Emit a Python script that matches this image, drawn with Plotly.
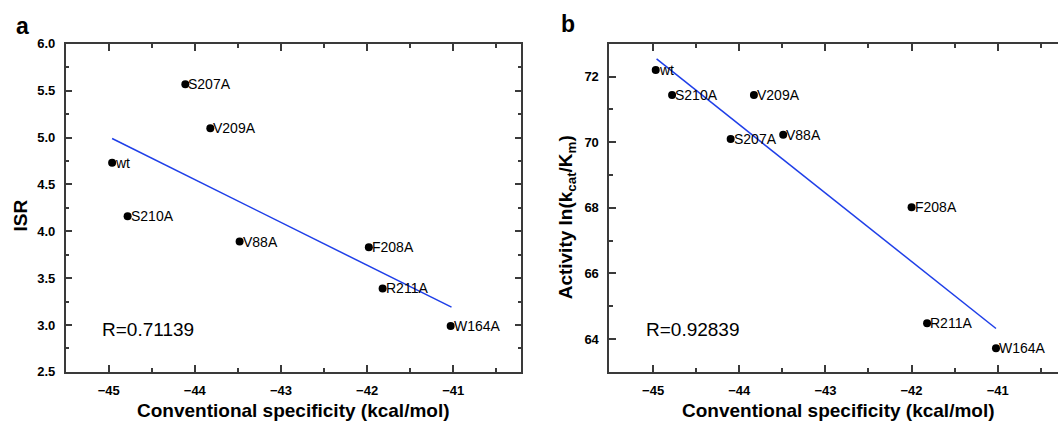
import plotly.graph_objects as go

# ---------------- data ----------------
mutants = ["wt", "S207A", "V209A", "S210A", "V88A", "F208A", "R211A", "W164A"]
spec_a = [-44.96, -44.11, -43.82, -44.78, -43.48, -41.98, -41.82, -41.03]
isr = [4.73, 5.57, 5.10, 4.16, 3.89, 3.83, 3.39, 2.99]
spec_b = [-44.97, -44.10, -43.83, -44.78, -43.49, -42.00, -41.82, -41.02]
activity = [72.20, 70.10, 71.44, 71.44, 70.23, 68.02, 64.48, 63.72]

fit_x_a = [-44.96, -41.02]
fit_y_a = [4.99, 3.19]
fit_x_b = [-44.96, -41.02]
fit_y_b = [72.54, 64.32]

r_a = "R=0.71139"
r_b = "R=0.92839"
x_title = "Conventional specificity (kcal/mol)"
y_title_a = "ISR"
y_title_b = "Activity ln(k<sub>cat</sub>/K<sub>m</sub>)"

W, H = 1058, 427
FONT = "Liberation Sans, Arial, sans-serif"
AX = "#3a3a3a"
BLUE = "#1f3fe8"


def px(x):
    return x / W


def py(y):
    return 1 - y / H


fig = go.Figure()

# panel a
fig.add_trace(go.Scatter(x=fit_x_a, y=fit_y_a, mode="lines",
                         line=dict(color=BLUE, width=1.5), xaxis="x", yaxis="y",
                         showlegend=False, hoverinfo="skip"))
fig.add_trace(go.Scatter(x=spec_a, y=isr, mode="markers",
                         marker=dict(color="black", size=8), xaxis="x", yaxis="y",
                         showlegend=False))
# panel b
fig.add_trace(go.Scatter(x=fit_x_b, y=fit_y_b, mode="lines",
                         line=dict(color=BLUE, width=1.5), xaxis="x2", yaxis="y2",
                         showlegend=False, hoverinfo="skip"))
fig.add_trace(go.Scatter(x=spec_b, y=activity, mode="markers",
                         marker=dict(color="black", size=8), xaxis="x2", yaxis="y2",
                         showlegend=False))

annotations = []
for name, xv, yv in zip(mutants, spec_a, isr):
    annotations.append(dict(x=xv, y=yv, xref="x", yref="y", text=name,
                            xanchor="left", yanchor="middle", xshift=1,
                            showarrow=False, font=dict(family=FONT, size=14, color="black")))
for name, xv, yv in zip(mutants, spec_b, activity):
    annotations.append(dict(x=xv, y=yv, xref="x2", yref="y2", text=name,
                            xanchor="left", yanchor="middle", xshift=1,
                            showarrow=False, font=dict(family=FONT, size=14, color="black")))

annotations += [
    dict(x=-45.1, y=2.95, xref="x", yref="y", text=r_a, xanchor="left", yanchor="middle",
         showarrow=False, font=dict(family=FONT, size=19, color="black")),
    dict(x=-45.11, y=64.3, xref="x2", yref="y2", text=r_b, xanchor="left", yanchor="middle",
         showarrow=False, font=dict(family=FONT, size=19, color="black")),
    # panel letters
    dict(x=px(22), y=py(20), xref="paper", yref="paper", text="<b>a</b>",
         xanchor="center", yanchor="middle", showarrow=False,
         font=dict(family=FONT, size=23, color="black")),
    dict(x=px(568), y=py(18), xref="paper", yref="paper", text="<b>b</b>",
         xanchor="center", yanchor="middle", showarrow=False,
         font=dict(family=FONT, size=23, color="black")),
    # axis titles
    dict(x=px(293.5), y=py(418), xref="paper", yref="paper", text="<b>" + x_title + "</b>",
         xanchor="center", yanchor="middle", showarrow=False,
         font=dict(family=FONT, size=19, color="black")),
    dict(x=px(838), y=py(418), xref="paper", yref="paper", text="<b>" + x_title + "</b>",
         xanchor="center", yanchor="middle", showarrow=False,
         font=dict(family=FONT, size=19, color="black")),
    dict(x=px(20), y=py(216), xref="paper", yref="paper", text="<b>" + y_title_a + "</b>",
         xanchor="center", yanchor="middle", textangle=-90, showarrow=False,
         font=dict(family=FONT, size=19, color="black")),
    dict(x=px(567), y=py(218), xref="paper", yref="paper", text="<b>" + y_title_b + "</b>",
         xanchor="center", yanchor="middle", textangle=-90, showarrow=False,
         font=dict(family=FONT, size=19, color="black")),
]

common = dict(showline=True, linecolor=AX, linewidth=1.5, ticks="inside", ticklen=7,
              tickwidth=1.5, tickcolor=AX, showgrid=False, zeroline=False,
              tickfont=dict(family=FONT, size=13, color="black", weight="bold"),
              ticklabelstandoff=6)

x_dom_a = [px(65.6), px(521.3)]
x_dom_b = [px(609.2), 1.0]
y_dom = [py(378.1), py(38.2)]

fig.update_layout(
    width=W, height=H,
    margin=dict(l=0, r=0, t=0, b=0, pad=0),
    paper_bgcolor="white", plot_bgcolor="white",
    font=dict(family=FONT),
    xaxis=dict(domain=x_dom_a, range=[-45.5, -40.21], dtick=1, tick0=-45, mirror="ticks",
               minor=dict(dtick=0.5, tick0=-45, ticklen=4, ticks="inside", tickcolor=AX, tickwidth=1.5),
               anchor="y", **common),
    yaxis=dict(domain=y_dom, range=[2.5, 6.0], dtick=0.5, tick0=2.5, tickformat=".1f", mirror="ticks",
               minor=dict(dtick=0.25, tick0=2.5, ticklen=4, ticks="inside", tickcolor=AX, tickwidth=1.5),
               anchor="x", **common),
    xaxis2=dict(domain=x_dom_b, range=[-45.51, -40.30], dtick=1, tick0=-45, mirror="ticks",
                minor=dict(dtick=0.5, tick0=-45, ticklen=4, ticks="inside", tickcolor=AX, tickwidth=1.5),
                anchor="y2", **common),
    yaxis2=dict(domain=y_dom, range=[63, 73], dtick=2, tick0=64, mirror=False,
                minor=dict(dtick=1, tick0=63, ticklen=4, ticks="inside", tickcolor=AX, tickwidth=1.5),
                anchor="x2", **common),
    annotations=annotations,
)

# remove the browser's default 8px body margin so the figure sits at the window's corner
fig.write_html("out.html",
               config={"displayModeBar": False},
               post_script="document.body.style.margin='0';document.body.style.overflow='hidden';")
